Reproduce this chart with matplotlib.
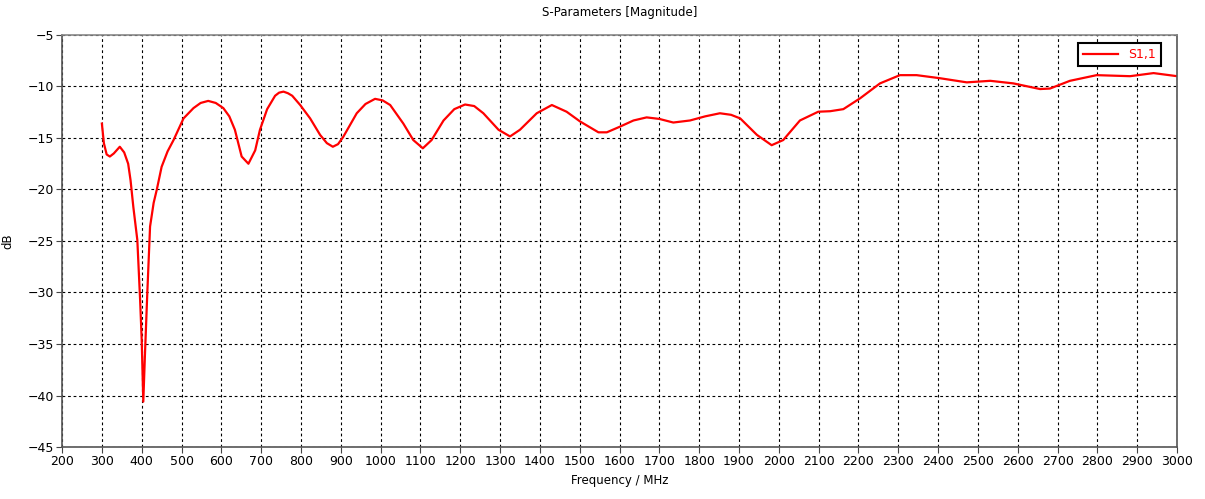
import matplotlib.pyplot as plt

# S1,1 magnitude
freq = [300, 305, 312, 320, 330, 345, 356, 366, 372, 379, 389, 396, 400, 404,
        408, 414, 421, 430, 438, 450, 465, 480, 505, 530, 548, 567, 586, 605,
        620, 634, 651, 668, 685, 697, 715, 735, 745, 756, 767, 778, 798, 823,
        848, 865, 880, 893, 906, 940, 962, 986, 1005, 1024, 1057, 1082, 1106,
        1128, 1158, 1185, 1212, 1235, 1258, 1296, 1325, 1350, 1392, 1430, 1467,
        1501, 1547, 1568, 1601, 1635, 1668, 1700, 1735, 1777, 1815, 1852, 1880,
        1903, 1945, 1982, 2011, 2053, 2099, 2129, 2162, 2204, 2254, 2304, 2346,
        2405, 2472, 2531, 2589, 2656, 2681, 2731, 2798, 2882, 2941, 3000]
s11 = [-13.6, -15.5, -16.6, -16.8, -16.5, -15.85, -16.4, -17.5, -19.1, -21.7,
       -24.9, -30.7, -34.6, -40.6, -36.2, -30.1, -23.6, -21.3, -20.0, -17.8,
       -16.3, -15.2, -13.1, -12.1, -11.6, -11.4, -11.6, -12.1, -12.9, -14.2,
       -16.8, -17.5, -16.2, -14.2, -12.2, -10.9, -10.6, -10.5, -10.65, -10.9,
       -11.8, -13.1, -14.7, -15.5, -15.85, -15.6, -14.9, -12.6, -11.7, -11.2,
       -11.35, -11.8, -13.6, -15.2, -16.0, -15.2, -13.3, -12.2, -11.75, -11.9,
       -12.6, -14.2, -14.85, -14.2, -12.6, -11.8, -12.45, -13.4, -14.45, -14.45,
       -13.9, -13.3, -13.0, -13.15, -13.5, -13.3, -12.9, -12.6, -12.75, -13.1,
       -14.7, -15.7, -15.2, -13.3, -12.45, -12.4, -12.2, -11.15, -9.7, -8.9,
       -8.9, -9.2, -9.6, -9.45, -9.7, -10.25, -10.2, -9.45, -8.9, -9.0, -8.7,
       -9.0]

xticks = list(range(200, 3001, 100))
yticks = list(range(-45, -4, 5))

plt.rcParams['font.family'] = ['DejaVu Sans']
fig = plt.figure(figsize=(12.05, 4.99), dpi=100)
ax = fig.add_axes([0.0515, 0.1042, 0.9253, 0.8257])

ax.plot(freq, s11, color='#ff0000', lw=1.6, label='S1,1')

ax.set_xlim(200, 3000)
ax.set_ylim(-45, -5)
ax.set_xticks(xticks)
ax.set_yticks(yticks)
ax.tick_params(labelsize=9, length=4, width=0.8, color='#444444', pad=2)
ax.grid(True, color='black', linestyle=(0, (2.5, 2.5)), linewidth=0.8)

for side in ['left', 'bottom', 'right']:
    ax.spines[side].set_color('#555555')
    ax.spines[side].set_linewidth(1.2)
ax.spines['top'].set_color('#888888')
ax.spines['top'].set_linewidth(1.2)

ax.set_title('S-Parameters [Magnitude]', fontsize=8.5, pad=14)
ax.set_xlabel('Frequency / MHz', fontsize=8.5, labelpad=4)
ax.set_ylabel('dB', fontsize=8.5)
ax.yaxis.set_label_coords(-0.043, 0.5)

leg = ax.legend(loc='upper right', fontsize=9, fancybox=False, framealpha=1,
                borderpad=0.4, handlelength=2.8, bbox_to_anchor=(0.991, 0.995))
leg.get_frame().set_edgecolor('black')
leg.get_frame().set_linewidth(1.5)
for t in leg.get_texts():
    t.set_color('#ff0000')

plt.savefig('out.png', dpi=100)
